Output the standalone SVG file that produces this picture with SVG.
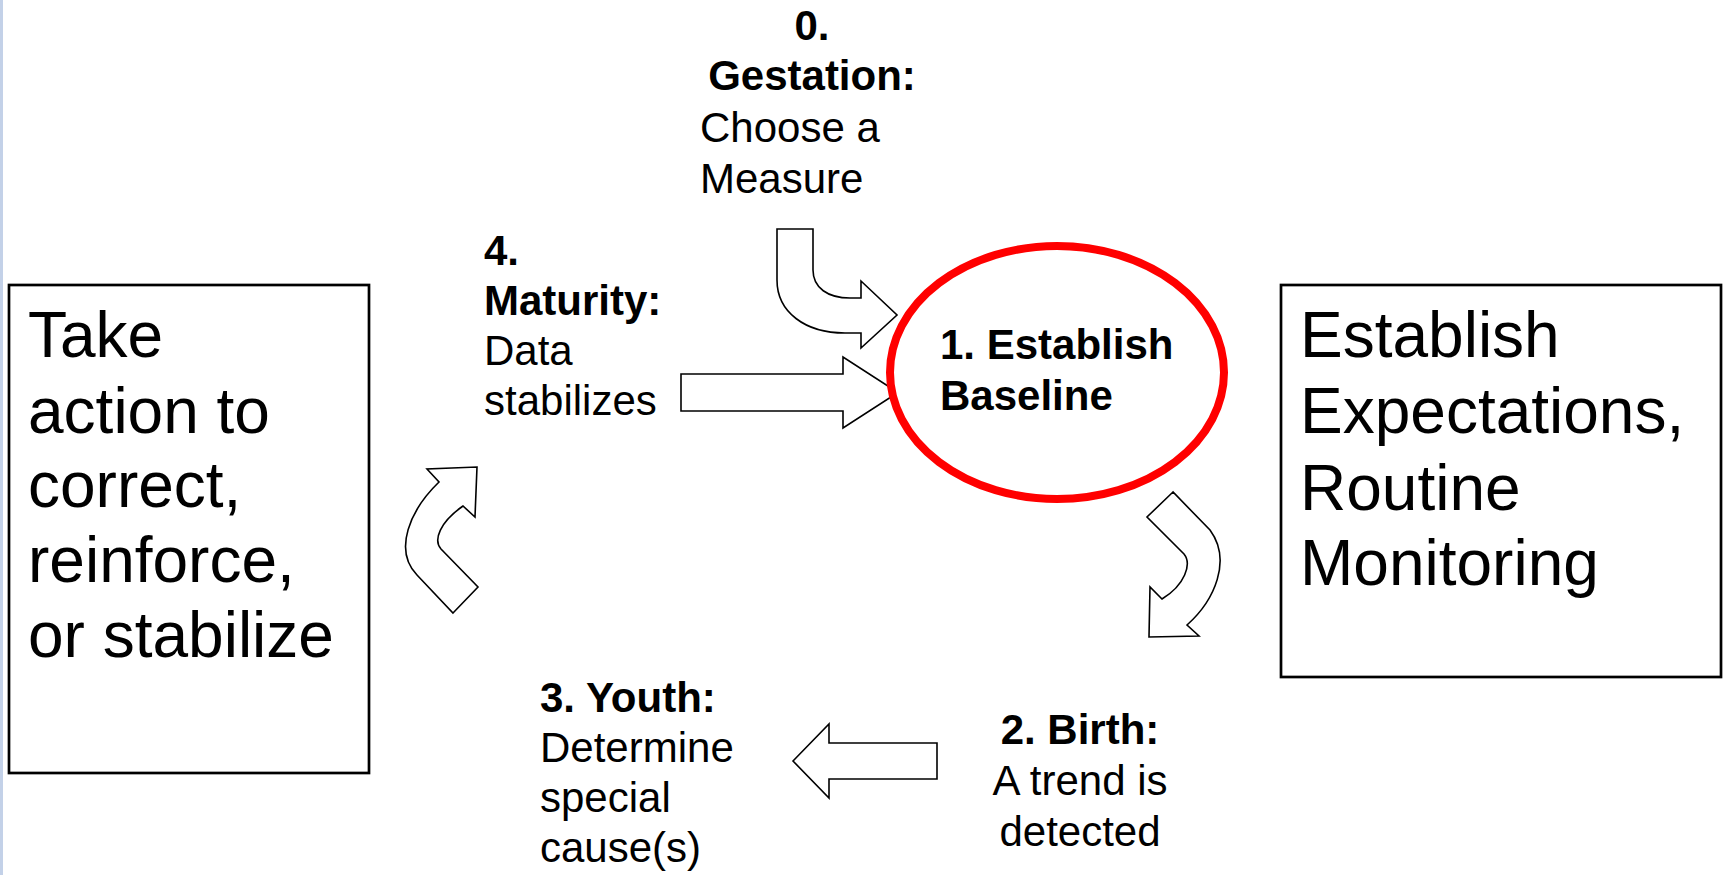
<svg xmlns="http://www.w3.org/2000/svg" width="1725" height="875" viewBox="0 0 1725 875">
  <style>
    .lbl { font-family: "Liberation Sans", Arial, sans-serif; font-size: 42px; fill: #000; }
    .b { font-weight: bold; }
    .big { font-family: "Liberation Sans", Arial, sans-serif; font-size: 64px; fill: #000; }
    .box { fill: #fff; stroke: #000; stroke-width: 2.7; }
    .arrow { fill: #fff; stroke: #000; stroke-width: 1.6; stroke-linejoin: miter; }
  </style>
  <rect width="1725" height="875" fill="#fff"/>
  <rect x="0" y="0" width="3" height="875" fill="#c3d1e8"/>

  <!-- Connectors: block arrows between stages -->
  <g id="connectors">
    <path class="arrow" d="M777,229 H813 V270 C813,288 828,298 850,298 H861 V281 L897,315 L861,348 V333 H845 C805,333 777,312 777,280 Z"/>
    <path class="arrow" d="M681,374 H843 V357 L898,392.5 L843,428 V411 H681 Z"/>
    <path class="arrow" d="M1173,492 L1147,517 L1184,554 C1192,564 1185,585 1162,599 L1150,587 L1149,637 L1199,636 L1187,625 C1215,600 1232,560 1210,530 Z"/>
    <path class="arrow" d="M793,761 L829,724 V743 H937 V779 H829 V798 Z"/>
    <path class="arrow" d="M453,613 L478,587 L441,549 C433,540 440,522 463,506 L475,517 L477,467 L427,469 L439,482 C410,510 393,550 417,575 Z"/>
  </g>

  <g id="stage0">
    <text class="lbl b" x="812" y="40" text-anchor="middle">0.</text>
    <text class="lbl b" x="812" y="90" text-anchor="middle">Gestation:</text>
    <text class="lbl" x="700" y="142">Choose a</text>
    <text class="lbl" x="700" y="193">Measure</text>
  </g>

  <g id="stage1">
    <ellipse cx="1057" cy="372.5" rx="167" ry="126.5" fill="#fff" stroke="#ff0000" stroke-width="8"/>
    <text class="lbl b" x="940" y="359">1. Establish</text>
    <text class="lbl b" x="940" y="410">Baseline</text>
  </g>

  <g id="stage2">
    <text class="lbl b" x="1080" y="744" text-anchor="middle">2. Birth:</text>
    <text class="lbl" x="1080" y="795" text-anchor="middle">A trend is</text>
    <text class="lbl" x="1080" y="846" text-anchor="middle">detected</text>
  </g>

  <g id="stage3">
    <text class="lbl b" x="540" y="712">3. Youth:</text>
    <text class="lbl" x="540" y="762">Determine</text>
    <text class="lbl" x="540" y="812">special</text>
    <text class="lbl" x="540" y="862">cause(s)</text>
  </g>

  <g id="stage4">
    <text class="lbl b" x="484" y="265">4.</text>
    <text class="lbl b" x="484" y="315">Maturity:</text>
    <text class="lbl" x="484" y="365">Data</text>
    <text class="lbl" x="484" y="415">stabilizes</text>
  </g>

  <g id="action-box">
    <rect class="box" x="9" y="285" width="360" height="488"/>
    <text class="big" x="28" y="357">Take</text>
    <text class="big" x="28" y="433">action to</text>
    <text class="big" x="28" y="507">correct,</text>
    <text class="big" x="28" y="582">reinforce,</text>
    <text class="big" x="28" y="657">or stabilize</text>
  </g>

  <g id="monitoring-box">
    <rect class="box" x="1281" y="285" width="440" height="392"/>
    <text class="big" x="1300" y="357">Establish</text>
    <text class="big" x="1300" y="433">Expectations,</text>
    <text class="big" x="1300" y="510">Routine</text>
    <text class="big" x="1300" y="585">Monitoring</text>
  </g>
</svg>
